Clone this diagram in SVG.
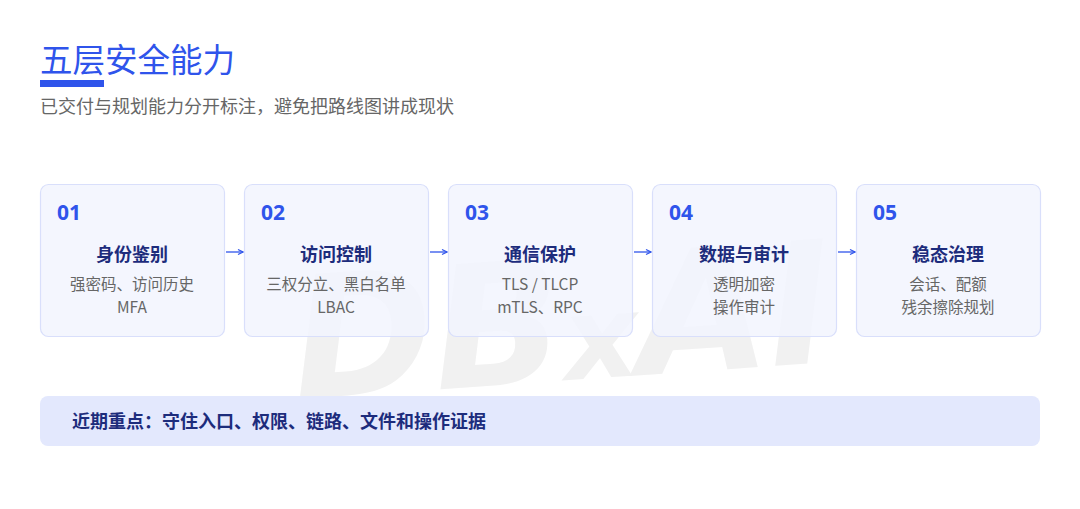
<svg xmlns="http://www.w3.org/2000/svg" width="1080" height="509" viewBox="0 0 1080 509">
<defs>
<style>
.cjk{font-family:"Noto Sans CJK SC","Noto Sans",sans-serif;}
.title{font-size:32.5px;fill:#2f54eb;}
.sub{font-size:18px;fill:#666666;}
.card{fill:#f2f4fe;fill-opacity:0.85;stroke:#d9dffb;stroke-width:1.2;}
.num{font-family:"Noto Sans","Noto Sans CJK SC",sans-serif;font-size:21px;font-weight:700;fill:#2f54eb;}
.head{font-size:18px;font-weight:700;fill:#1d2c7c;text-anchor:middle;}
.desc{font-size:15.5px;fill:#666666;text-anchor:middle;}
.conn{stroke:#2f54eb;stroke-width:1.3;fill:none;}
.wm{font-family:"DejaVu Sans",sans-serif;font-weight:700;font-style:italic;fill:#f1f1f1;}
</style>
<marker id="ah" markerWidth="8" markerHeight="8" refX="7" refY="4" orient="auto" markerUnits="userSpaceOnUse">
<path d="M2,1.5 L7,4 L2,6.5" fill="none" stroke="#2f54eb" stroke-width="1.2"/>
</marker>
</defs>
<rect width="1080" height="509" fill="#ffffff"/>
<g id="watermark">
<text class="wm" x="290" y="382" font-size="170" transform="rotate(-4 540 300)">DB<tspan font-size="115">x</tspan>AI</text>
</g>
<g id="header">
<text class="cjk title" x="40" y="72">五层安全能力</text>
<rect x="40" y="80" width="64" height="7" fill="#2f54eb"/>
<text class="cjk sub" x="40" y="113">已交付与规划能力分开标注，避免把路线图讲成现状</text>
</g>
<g id="connectors">
<line class="conn" x1="226" y1="252" x2="243" y2="252" marker-end="url(#ah)"/>
<line class="conn" x1="430" y1="252" x2="447" y2="252" marker-end="url(#ah)"/>
<line class="conn" x1="634" y1="252" x2="651" y2="252" marker-end="url(#ah)"/>
<line class="conn" x1="838" y1="252" x2="855" y2="252" marker-end="url(#ah)"/>
</g>
<g id="node1">
<rect class="card" x="40.5" y="184.5" width="184" height="152" rx="8"/>
<text class="num" x="57" y="220">01</text>
<text class="cjk head" x="132" y="261">身份鉴别</text>
<text class="cjk desc" x="132" y="289.5">强密码、访问历史</text>
<text class="cjk desc" x="132" y="312.5">MFA</text>
</g>
<g id="node2">
<rect class="card" x="244.5" y="184.5" width="184" height="152" rx="8"/>
<text class="num" x="261" y="220">02</text>
<text class="cjk head" x="336" y="261">访问控制</text>
<text class="cjk desc" x="336" y="289.5">三权分立、黑白名单</text>
<text class="cjk desc" x="336" y="312.5">LBAC</text>
</g>
<g id="node3">
<rect class="card" x="448.5" y="184.5" width="184" height="152" rx="8"/>
<text class="num" x="465" y="220">03</text>
<text class="cjk head" x="540" y="261">通信保护</text>
<text class="cjk desc" x="540" y="289.5">TLS / TLCP</text>
<text class="cjk desc" x="540" y="312.5">mTLS、RPC</text>
</g>
<g id="node4">
<rect class="card" x="652.5" y="184.5" width="184" height="152" rx="8"/>
<text class="num" x="669" y="220">04</text>
<text class="cjk head" x="744" y="261">数据与审计</text>
<text class="cjk desc" x="744" y="289.5">透明加密</text>
<text class="cjk desc" x="744" y="312.5">操作审计</text>
</g>
<g id="node5">
<rect class="card" x="856.5" y="184.5" width="184" height="152" rx="8"/>
<text class="num" x="873" y="220">05</text>
<text class="cjk head" x="948" y="261">稳态治理</text>
<text class="cjk desc" x="948" y="289.5">会话、配额</text>
<text class="cjk desc" x="948" y="312.5">残余擦除规划</text>
</g>
<g id="banner">
<rect x="40" y="396" width="1000" height="50" rx="8" fill="#e3e8fd"/>
<text class="cjk" x="72" y="428" font-size="18" font-weight="700" fill="#1d2c7c">近期重点：守住入口、权限、链路、文件和操作证据</text>
</g>
</svg>
